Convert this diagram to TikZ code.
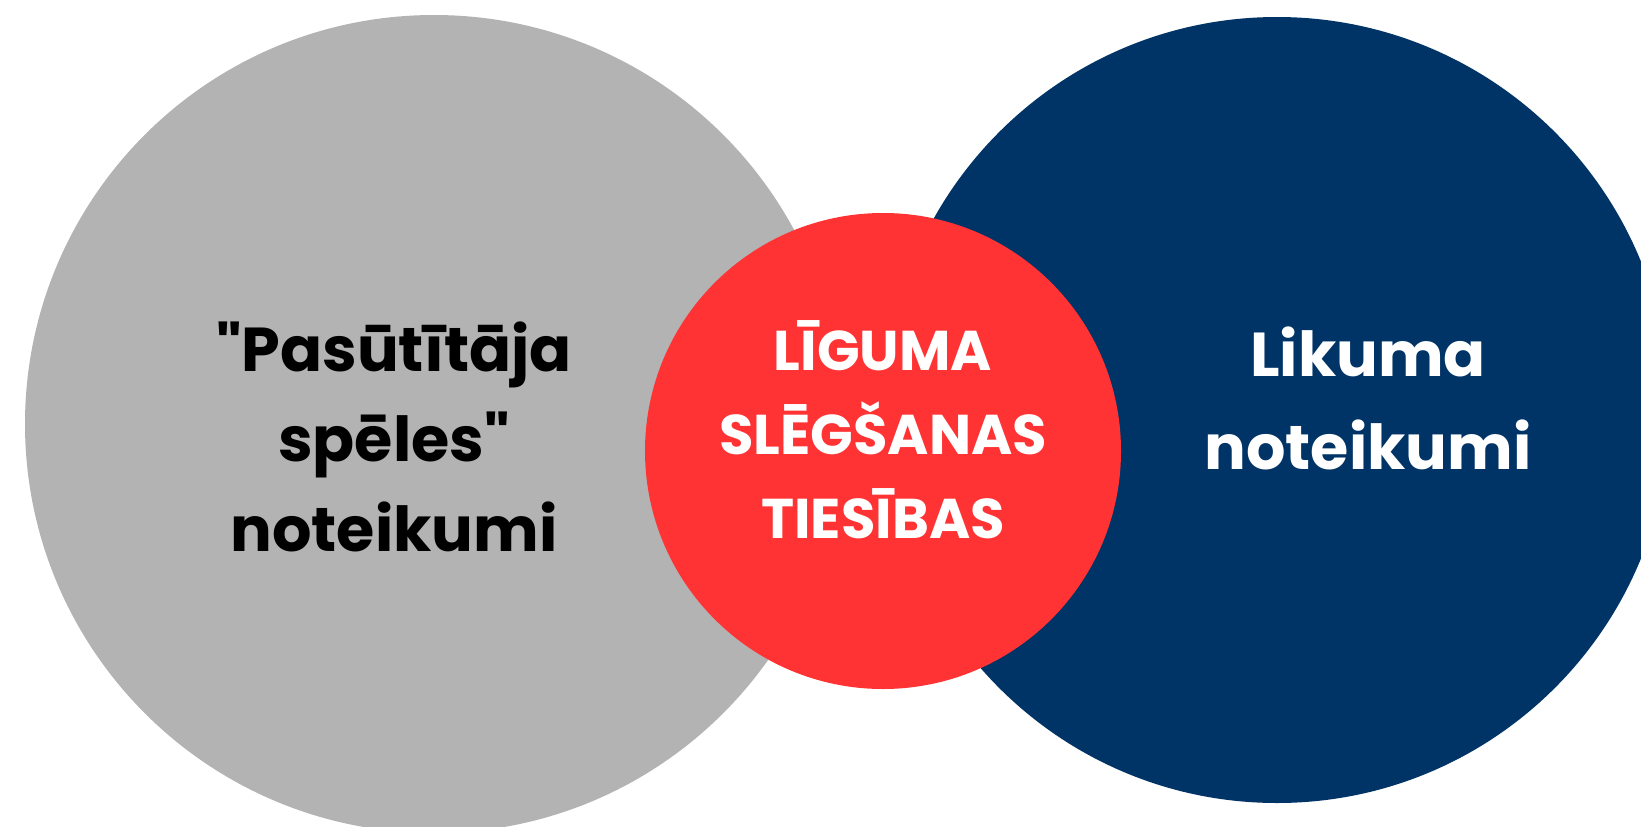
\documentclass[tikz,border=0pt]{standalone}
\usepackage{fontspec}
\setmainfont{Poppins}[BoldFont={* Bold},Ligatures=TeXOff]
\definecolor{cgray}{RGB}{179,179,179}
\definecolor{cblue}{RGB}{0,51,102}
\definecolor{cred}{RGB}{255,51,51}
\begin{document}
\begin{tikzpicture}[x=1pt,y=-1pt,
  lbl/.style={align=center,font=\fontsize{62}{90}\selectfont\bfseries,inner sep=0pt},
  rlbl/.style={align=center,font=\fontsize{56}{84}\selectfont\bfseries,inner sep=0pt,text=white}]
\useasboundingbox (0,0) rectangle (1641,827);
\clip (0,0) rectangle (1641,827);
\fill[cgray] (434,424) circle[radius=409pt];
\fill[cblue] (1277,410) circle[radius=393pt];
\fill[cred] (883,451) circle[radius=238pt];
\node[lbl,text=black] (left) at (394,437) {"Pasūtītāja\\spēles"\\noteikumi};
\node[lbl,text=white,font=\fontsize{62}{93}\selectfont\bfseries] (right) at (1368,398) {Likuma\\noteikumi};
\node[rlbl] (mid) at (883,430) {LĪGUMA\\SLĒGŠANAS\\TIESĪBAS};
\end{tikzpicture}
\end{document}
